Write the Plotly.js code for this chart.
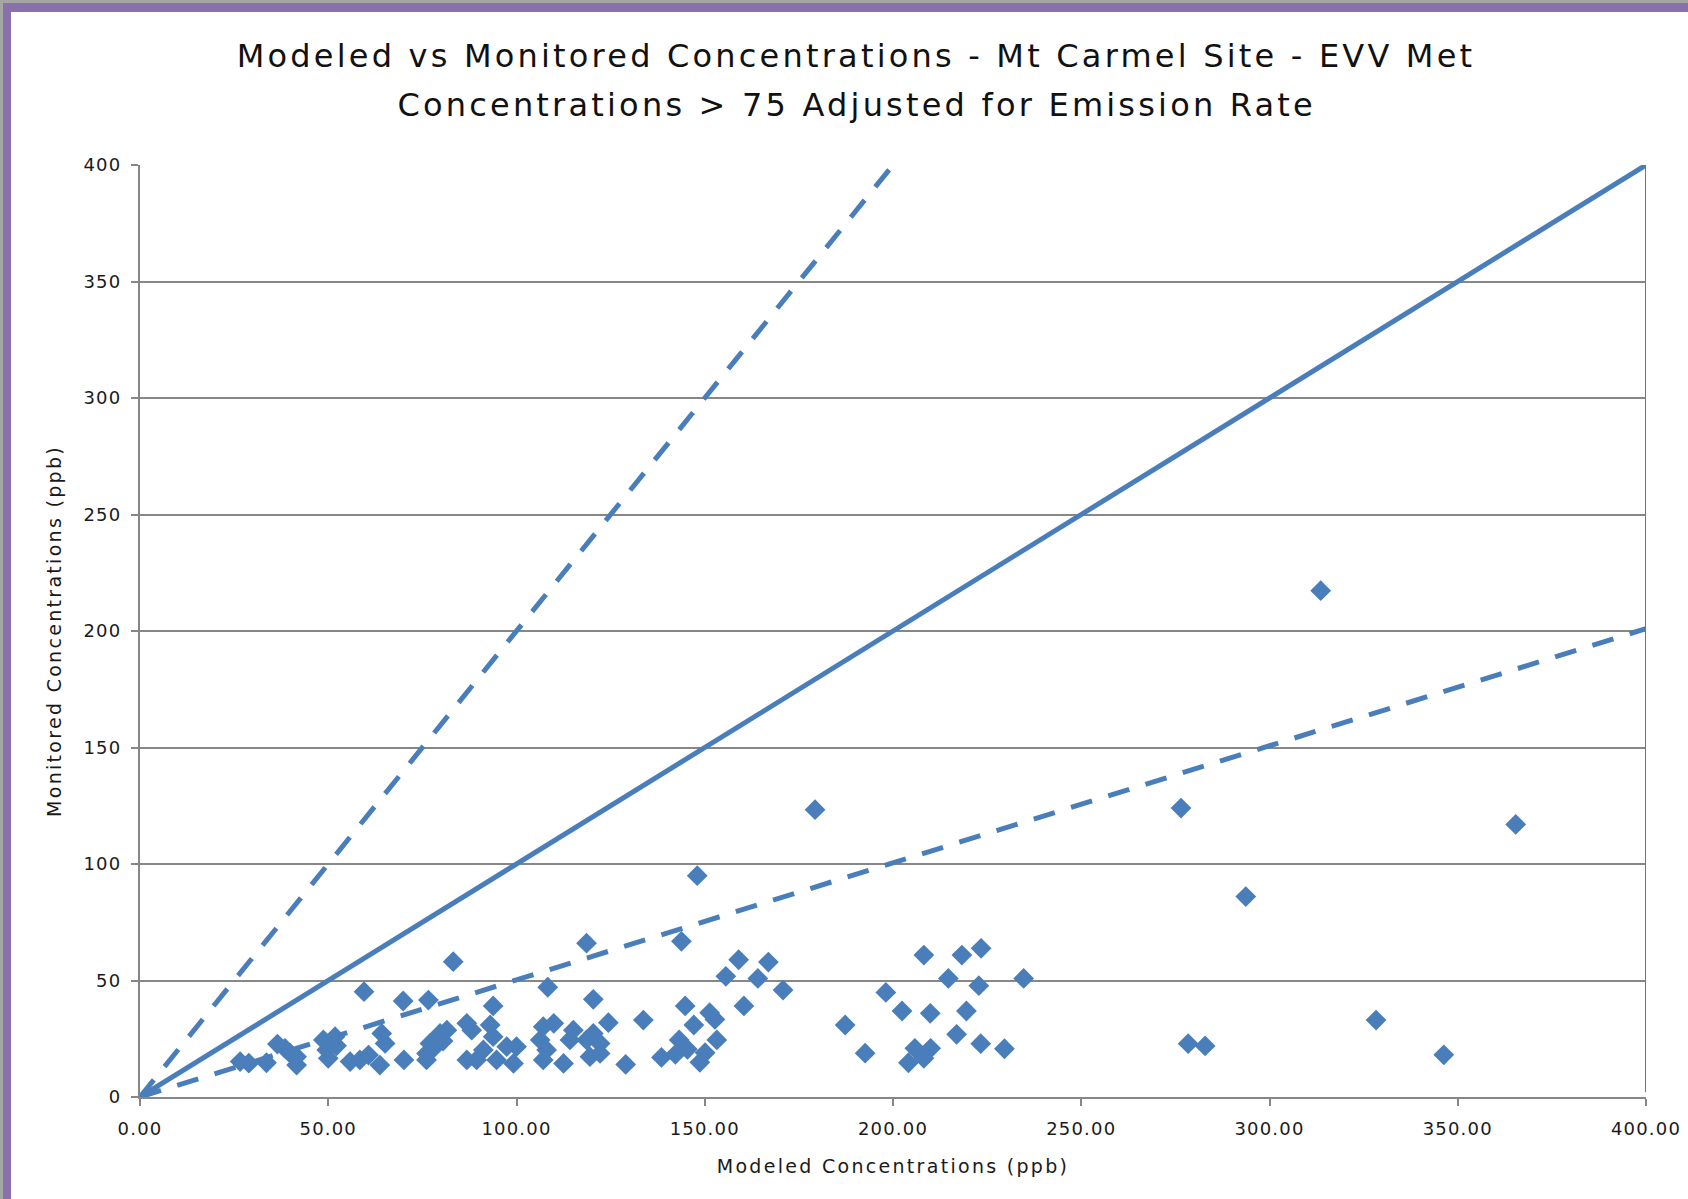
<!DOCTYPE html>
<html>
<head>
<meta charset="utf-8">
<script src="https://cdn.plot.ly/plotly-3.0.1.min.js"></script>
<style>
  html, body { margin: 0; padding: 0; background: #ffffff; overflow: hidden; }
  #chart { position: absolute; left: 0; top: 0; width: 1688px; height: 1199px; }
  .frame { position: absolute; pointer-events: none; z-index: 5; }
  #chart text.gtitle, #chart text.annotation-text { letter-spacing: 3.2px; }
  #chart text.xtitle, #chart text.ytitle { letter-spacing: 2.3px; }
  #chart .xtick text, #chart .ytick text { letter-spacing: 1.2px; }
</style>
</head>
<body>
<div id="chart"></div>
<div class="frame" style="left:0;top:0;width:1688px;height:3px;background:#a6a6a6;"></div>
<div class="frame" style="left:0;top:3px;width:1688px;height:9px;background:#8a70ad;"></div>
<div class="frame" style="left:0;top:0;width:3px;height:1199px;background:#a6a6a6;"></div>
<div class="frame" style="left:3px;top:3px;width:8px;height:1196px;background:#8a70ad;"></div>
<script>
// ---- data ----
const modeled = [
  26.6, 28.9, 33.6, 36.5, 38.5, 39.9, 41.6, 41.6,
  48.7, 49.6, 50.0, 51.8, 52.2,
  55.8, 58.4, 59.5, 60.7, 63.7, 64.2, 65.1,
  69.9, 70.1, 76.1, 76.1, 76.6, 77.0, 78.0, 79.7, 81.5, 80.5, 83.2,
  86.8, 88.1, 86.8, 89.4, 91.2, 93.0, 93.8, 93.8, 94.7, 97.4, 100.0, 99.2,
  107.1, 109.9, 106.3, 108.0, 107.1, 108.3, 112.5, 115.1, 114.2, 118.6, 118.6, 120.4, 122.2, 119.5, 122.2, 120.4, 124.4,
  129.0, 133.7, 138.5, 142.2, 143.2, 143.8, 144.8, 145.4, 147.1, 148.0, 148.7, 150.1, 151.3, 152.7, 153.2,
  155.6, 159.0, 160.4, 164.1, 166.9, 170.8, 179.3, 187.3, 192.6,
  198.1, 202.4, 204.1, 205.8, 208.2, 208.2, 209.9, 210.0, 214.7, 216.9, 218.3, 219.5, 222.8, 223.3, 223.4, 229.6, 234.7,
  278.4, 282.9, 276.5, 293.7,
  313.6, 328.3, 346.3, 365.4
];
const monitored = [
  15.2, 14.5, 14.7, 22.7, 20.9, 18.7, 17.3, 13.7,
  24.5, 20.2, 16.6, 25.9, 22.0,
  15.2, 15.9, 45.2, 18.0, 13.7, 27.3, 23.0,
  41.2, 15.9, 18.7, 15.9, 41.6, 23.0, 21.0, 27.3, 28.7, 24.0, 58.1,
  31.6, 28.7, 15.9, 15.9, 20.2, 30.9, 25.9, 39.1, 15.9, 21.6, 21.6, 14.4,
  30.2, 31.6, 24.5, 20.2, 15.9, 47.1, 14.4, 28.7, 24.5, 24.5, 66.0, 27.3, 23.0, 17.3, 18.7, 41.9, 31.9,
  14.0, 33.0, 17.0, 18.3, 24.5, 66.8, 39.1, 20.5, 30.9, 95.0, 14.9, 19.0, 36.2, 33.3, 24.5,
  51.8, 58.9, 39.1, 50.9, 57.9, 45.9, 123.3, 30.9, 18.8,
  44.9, 36.9, 14.7, 20.9, 60.9, 16.6, 35.9, 20.9, 50.9, 26.9, 60.9, 36.9, 47.8, 22.9, 63.8, 20.7, 50.9,
  22.9, 21.9, 124.0, 86.0,
  217.3, 33.0, 18.1, 117.0
];
// reference lines
const lineOneToOneX = [0, 400];
const lineOneToOneY = [0, 400];
const lineTwoToOneX = [0, 200];
const lineTwoToOneY = [0, 400];
const lineHalfX = [0, 400];
const lineHalfY = [0, 201];
const edgeLineX = [400, 400];
const edgeLineY = [400, 2];

const xTicks = [0, 50, 100, 150, 200, 250, 300, 350, 400];
const xTickLabels = ["0.00", "50.00", "100.00", "150.00", "200.00", "250.00", "300.00", "350.00", "400.00"];
const yTicks = [0, 50, 100, 150, 200, 250, 300, 350, 400];
const yTickLabels = ["0", "50", "100", "150", "200", "250", "300", "350", "400"];

const titleLine1 = "Modeled vs Monitored Concentrations - Mt Carmel Site - EVV Met";
const titleLine2 = "Concentrations &gt; 75 Adjusted for Emission Rate";
const xTitle = "Modeled Concentrations (ppb)";
const yTitle = "Monitored Concentrations (ppb)";

// ---- styles ----
const BLUE = "#4a7ebb";
const GRAY = "#878787";
const FONT = "DejaVu Sans, Verdana, sans-serif";

const traces = [
  { x: lineOneToOneX, y: lineOneToOneY, type: "scatter", mode: "lines",
    line: { color: BLUE, width: 5 }, hoverinfo: "skip", showlegend: false },
  { x: lineTwoToOneX, y: lineTwoToOneY, type: "scatter", mode: "lines",
    line: { color: BLUE, width: 5, dash: "22px,17px" }, hoverinfo: "skip", showlegend: false },
  { x: lineHalfX, y: lineHalfY, type: "scatter", mode: "lines",
    line: { color: BLUE, width: 5, dash: "22px,17px" }, hoverinfo: "skip", showlegend: false },
  { x: edgeLineX, y: edgeLineY, type: "scatter", mode: "lines",
    line: { color: BLUE, width: 2 }, hoverinfo: "skip", showlegend: false },
  { x: modeled, y: monitored, type: "scatter", mode: "markers",
    marker: { symbol: "diamond", size: 16, color: BLUE, line: { width: 0 } },
    showlegend: false }
];

const layout = {
  width: 1688, height: 1199,
  margin: { l: 140, r: 42, t: 165, b: 102 },
  paper_bgcolor: "#ffffff", plot_bgcolor: "#ffffff",
  font: { family: FONT, color: "#1a1a1a", size: 18 },
  title: {
    text: titleLine1,
    x: 856 / 1688, xanchor: "center", xref: "container",
    y: 1 - 56 / 1199, yanchor: "middle", yref: "container",
    font: { family: FONT, size: 32, color: "#111111" }
  },
  annotations: [{
    text: titleLine2, showarrow: false,
    xref: "paper", yref: "paper",
    x: (856 - 140) / 1506, xanchor: "center",
    y: (1097 - 105.5) / 932, yanchor: "middle",
    font: { family: FONT, size: 32, color: "#111111" }
  }],
  xaxis: {
    range: [0, 400], autorange: false,
    tickmode: "array", tickvals: xTicks, ticktext: xTickLabels,
    showgrid: false, zeroline: false,
    showline: true, linecolor: GRAY, linewidth: 2,
    ticks: "outside", ticklen: 7, tickwidth: 2, tickcolor: GRAY,
    tickfont: { family: FONT, size: 18, color: "#1a1a1a" },
    ticklabelstandoff: 7,
    title: { text: xTitle, font: { family: FONT, size: 19, color: "#1a1a1a" }, standoff: 22 }
  },
  yaxis: {
    range: [0, 400], autorange: false,
    tickmode: "array", tickvals: yTicks, ticktext: yTickLabels,
    showgrid: true, gridcolor: GRAY, gridwidth: 2, zeroline: false,
    showline: true, linecolor: GRAY, linewidth: 2,
    ticks: "outside", ticklen: 7, tickwidth: 2, tickcolor: GRAY,
    tickfont: { family: FONT, size: 18, color: "#1a1a1a" },
    ticklabelstandoff: 6,
    title: { text: yTitle, font: { family: FONT, size: 19, color: "#1a1a1a" }, standoff: 20 }
  }
};

Plotly.newPlot("chart", traces, layout, { staticPlot: true, displayModeBar: false });
</script>
</body>
</html>
